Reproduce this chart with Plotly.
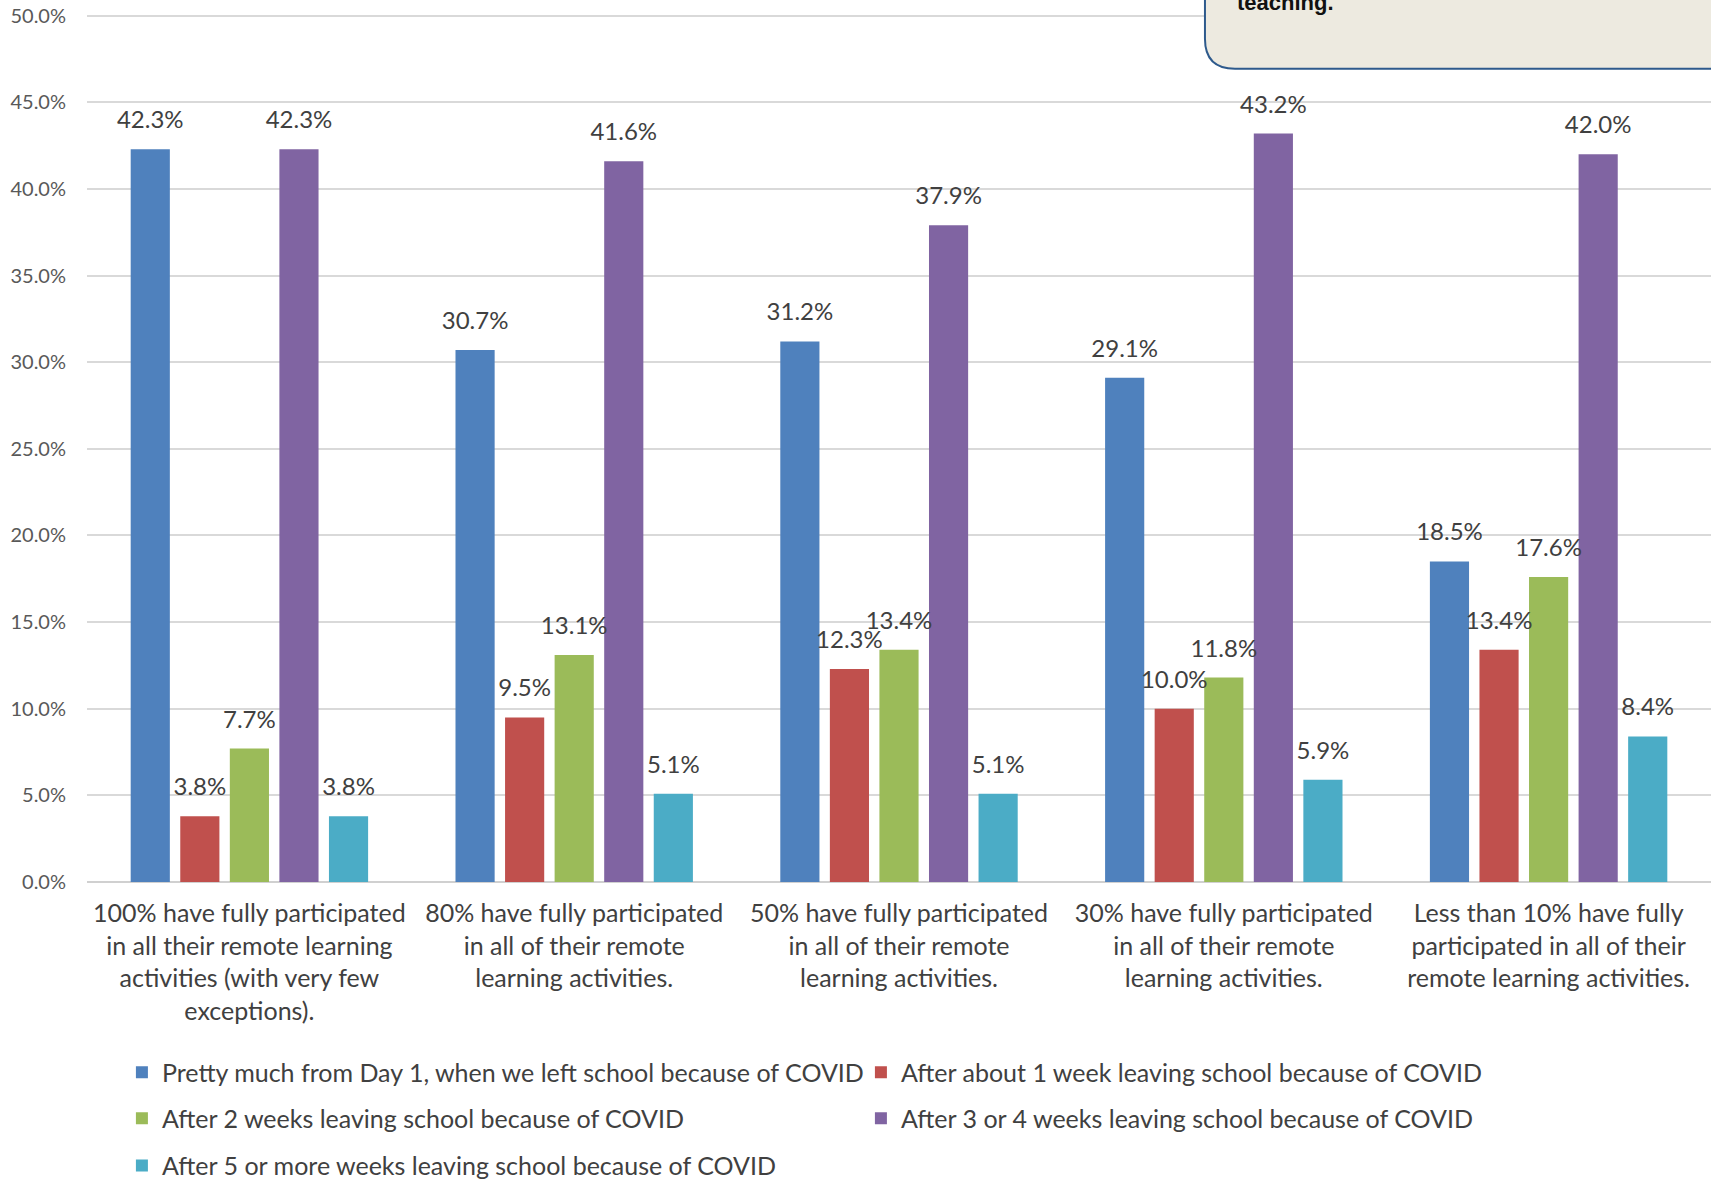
import plotly.graph_objects as go

categories = [
    "100% have fully participated<br>in all their remote learning<br>activities (with very few<br>exceptions).",
    "80% have fully participated<br>in all of their remote<br>learning activities.",
    "50% have fully participated<br>in all of their remote<br>learning activities.",
    "30% have fully participated<br>in all of their remote<br>learning activities.",
    "Less than 10% have fully<br>participated in all of their<br>remote learning activities.",
]
series_names = [
    "Pretty much from Day 1, when we left school because of COVID",
    "After about 1 week leaving school because of COVID",
    "After 2 weeks leaving school because of COVID",
    "After 3 or 4 weeks leaving school because of COVID",
    "After 5 or more weeks leaving school because of COVID",
]
day1 = [42.3, 30.7, 31.2, 29.1, 18.5]
week1 = [3.8, 9.5, 12.3, 10.0, 13.4]
weeks2 = [7.7, 13.1, 13.4, 11.8, 17.6]
weeks3_4 = [42.3, 41.6, 37.9, 43.2, 42.0]
weeks5 = [3.8, 5.1, 5.1, 5.9, 8.4]
y_ticks = [0, 5, 10, 15, 20, 25, 30, 35, 40, 45, 50]

series_values = [day1, week1, weeks2, weeks3_4, weeks5]
colors = ["#4F81BD", "#C0504D", "#9BBB59", "#8064A2", "#4BACC6"]
legend_of = ["legend", "legend", "legend2", "legend2", "legend3"]

FONT = "Lato"
LABEL_GAP = 0.75  # value units of empty space between bar top and its label

fig = go.Figure()

# the bars
for i, (name, vals) in enumerate(zip(series_names, series_values)):
    fig.add_trace(go.Bar(
        x=categories, y=vals, name=name,
        marker=dict(color=colors[i], line=dict(width=0)),
        offsetgroup=str(i), legend=legend_of[i],
    ))

# invisible bars in the same slot that carry the value labels a bit higher
for i, vals in enumerate(series_values):
    fig.add_trace(go.Bar(
        x=categories, y=[v + LABEL_GAP for v in vals],
        marker=dict(color="rgba(0,0,0,0)", line=dict(width=0)),
        offsetgroup=str(i), showlegend=False, hoverinfo="skip",
        text=[f"{v:.1f}%" for v in vals], textposition="outside",
        constraintext="none", cliponaxis=False,
        textfont=dict(family=FONT, size=24, color="#404040"),
    ))

legend_common = dict(orientation="h", x=0.0215, yanchor="middle",
                     entrywidth=694, entrywidthmode="pixels",
                     font=dict(family=FONT, size=25, color="#404040"))

fig.update_layout(
    width=1711, height=1182,
    barmode="group", bargap=0.237, bargroupgap=0.21,
    plot_bgcolor="white", paper_bgcolor="white",
    margin=dict(l=87, r=0, t=14, b=300, autoexpand=False),
    font=dict(family=FONT, color="#404040"),
    xaxis=dict(
        tickfont=dict(family=FONT, size=25, color="#404040"),
        showgrid=False, showline=False, ticks="",
        ticklabelstandoff=14,
    ),
    yaxis=dict(
        range=[0, 50.1], tickvals=y_ticks,
        ticktext=[f"{t:.1f}%" for t in y_ticks],
        tickfont=dict(family=FONT, size=20, color="#595959"),
        showgrid=True, gridcolor="#D9D9D9", gridwidth=1.5,
        zeroline=True, zerolinecolor="#D0D0D0", zerolinewidth=1.5,
        ticklabelstandoff=20,
    ),
    showlegend=True,
    legend=dict(legend_common, y=-0.2194),
    legend2=dict(legend_common, y=-0.2725),
    legend3=dict(legend_common, y=-0.3268),
)

# note box cut off at the top right
x0, x1, yb, yt = 0.6884, 1.02, 0.937, 1.06
rx, ry = 0.0185, 0.0346
fig.add_shape(
    type="path", xref="paper", yref="paper",
    path=(f"M {x0} {yt} L {x0} {yb + ry} Q {x0} {yb} {x0 + rx} {yb} "
          f"L {x1} {yb} L {x1} {yt} Z"),
    fillcolor="#EDEAE0", line=dict(color="#2E5A8C", width=2), layer="above",
)
fig.add_annotation(
    text="<b>teaching.</b>", xref="paper", yref="paper",
    x=0.7066, y=0.9965, xanchor="left", yanchor="bottom", showarrow=False,
    font=dict(family="Liberation Sans", size=22, color="#111111"),
)

fig.write_html("out.html", config={"displayModeBar": False},
               post_script="document.body.style.margin = '0';")
